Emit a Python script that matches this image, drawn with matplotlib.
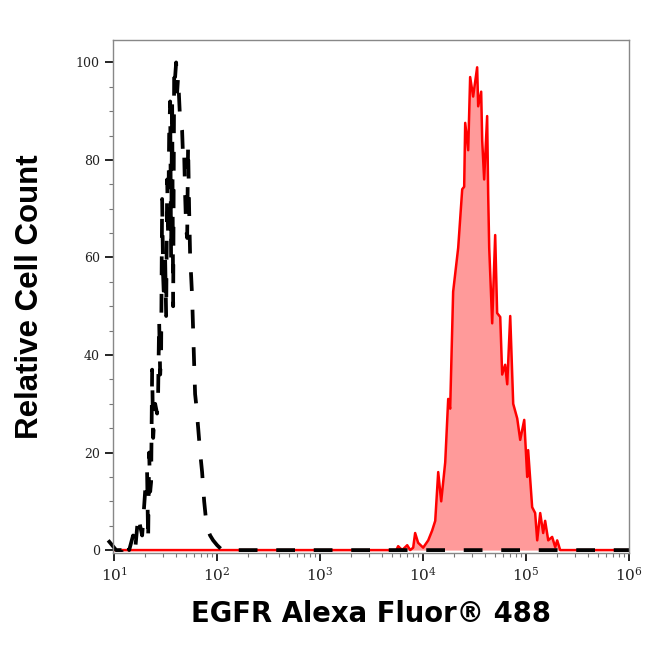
import numpy as np
import matplotlib
matplotlib.use("Agg")
import matplotlib.pyplot as plt
from matplotlib.ticker import LogLocator, MultipleLocator, FixedLocator

plt.rcParams['mathtext.fontset'] = 'dejavuserif'

# isotype control (black dashed), log10 intensity vs relative count
ctrl_log = [0.942, 0.981, 1.019, 1.078, 1.126, 1.146, 1.184, 1.204, 1.233, 1.252,
            1.272, 1.301, 1.320, 1.330, 1.340, 1.350, 1.359, 1.369, 1.379, 1.398,
            1.417, 1.427, 1.437, 1.447, 1.456, 1.466, 1.476, 1.485, 1.495, 1.505,
            1.515, 1.524, 1.534, 1.544, 1.553, 1.563, 1.573, 1.583, 1.592, 1.602,
            1.612, 1.621, 1.641, 1.660, 1.670, 1.680, 1.689, 1.699, 1.709, 1.718,
            1.728, 1.738, 1.748, 1.757, 1.767, 1.777, 1.786, 1.796, 1.816, 1.835,
            1.854, 1.874, 1.893, 1.913, 1.932, 1.961, 2.000, 2.049, 6.000]
ctrl_cnt = [2, 1, 0, 0, 2, 0, 3, 0, 7, 5,
            3, 12, 16, 2, 20, 12, 14, 37, 23, 30,
            28, 32, 47, 36, 40, 72, 56, 51, 60, 48,
            76, 64, 85, 92, 60, 93, 50, 99, 97, 100,
            94, 97, 88, 86, 80, 81, 73, 66, 64, 83,
            70, 60, 56, 52, 45, 38, 32, 30, 25, 20,
            16, 10, 6, 4, 3, 2, 1, 0, 0]

# EGFR stained sample (red filled)
egfr_log = [0.990, 3.740, 3.757, 3.796, 3.845, 3.874, 3.903, 3.922, 3.951, 4.000,
            4.049, 4.087, 4.117, 4.146, 4.175, 4.214, 4.243, 4.262, 4.291, 4.340,
            4.379, 4.398, 4.408, 4.437, 4.456, 4.485, 4.524, 4.534, 4.563, 4.573,
            4.592, 4.621, 4.631, 4.641, 4.670, 4.699, 4.718, 4.748, 4.767, 4.796,
            4.816, 4.845, 4.874, 4.913, 4.942, 4.981, 5.010, 5.019, 5.058, 5.087,
            5.107, 5.136, 5.165, 5.184, 5.214, 5.252, 5.282, 5.301, 5.330, 6.000]
egfr_cnt = [0, 0, 0.8, 0, 1, 0, 0.5, 3.5, 1.5, 0.5,
            2, 4, 6, 16, 10, 18, 31, 29, 53, 62,
            74, 74.5, 87.6, 82, 97, 93, 99, 91, 94, 84,
            76, 89, 73, 62, 46.5, 64.6, 48.6, 47.8, 36, 38,
            34, 48, 30, 27, 22.6, 26.7, 15, 20.5, 8.8, 7.6,
            2, 7.6, 3.5, 6, 2, 2.7, 0.6, 2, 0, 0]

x_ctrl = 10 ** np.array(ctrl_log)
x_egfr = 10 ** np.array(egfr_log)

fig = plt.figure(figsize=(6.5, 6.45), dpi=100)
ax = fig.add_axes([0.174, 0.1426, 0.794, 0.7954])

ax.fill_between(x_egfr, egfr_cnt, 0, color='#ff9a9a', lw=0)
ax.plot(x_egfr, egfr_cnt, color='#ff0000', lw=1.8)
ax.plot(x_ctrl, ctrl_cnt, color='black', lw=2.7, linestyle=(0, (5, 5)),
        clip_on=False)

ax.set_xscale('log')
ax.set_xlim(10 ** 0.99, 10 ** 6)
ax.set_ylim(-0.6, 104.6)

ax.xaxis.set_major_locator(FixedLocator([1e1, 1e2, 1e3, 1e4, 1e5, 1e6]))
ax.xaxis.set_minor_locator(LogLocator(base=10, subs=np.arange(2, 10)))
ax.set_xticklabels([r'$10^{%d}$' % k for k in range(1, 7)])
ax.yaxis.set_major_locator(MultipleLocator(20))
ax.yaxis.set_minor_locator(MultipleLocator(5))

ax.tick_params(axis='both', which='major', direction='out', length=6,
               width=1.2, color='black', labelsize=9, labelcolor='#222222')
ax.tick_params(axis='both', which='minor', direction='out', length=3,
               width=0.8, color='#777777')
ax.tick_params(axis='x', which='major', labelsize=11, pad=3)
for lab in ax.get_yticklabels():
    lab.set_family('DejaVu Serif')

for s in ax.spines.values():
    s.set_color('#888888')
    s.set_linewidth(1.0)

ax.set_xlabel('EGFR Alexa Fluor® 488', fontsize=19.8, fontweight='bold',
              family='DejaVu Sans', labelpad=12)
ax.set_ylabel('Relative Cell Count', fontsize=22.5, fontweight='bold',
              family='Liberation Sans', labelpad=22)

fig.savefig('out.png', dpi=100)
